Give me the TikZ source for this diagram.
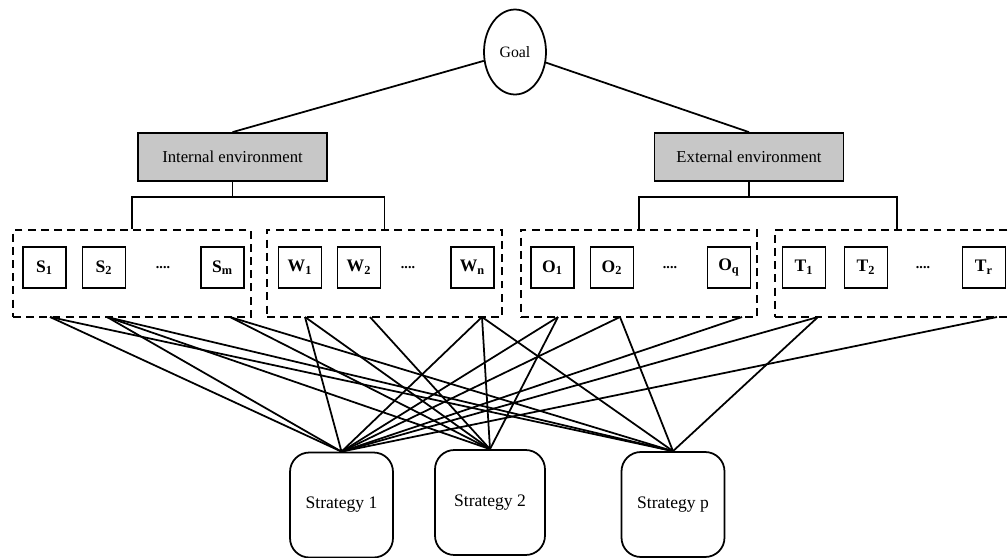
\documentclass[tikz,border=0pt]{standalone}
\usepackage{fontspec}
\setmainfont{Liberation Serif}
\usetikzlibrary{shapes.geometric, positioning}

\begin{document}
\begin{tikzpicture}[
    x=0.02cm, y=-0.02cm,
    goalnode/.style={ellipse, draw, line width=1pt, minimum width=1.24cm, minimum height=1.7cm, font=\fontsize{9}{11}\selectfont},
    envbox/.style={rectangle, draw, line width=1pt, fill=black!22, minimum width=3.78cm, minimum height=0.96cm, font=\fontsize{9.5}{11}\selectfont},
    group/.style={rectangle, draw, dashed, dash pattern=on 4.5pt off 3pt, line width=1pt, minimum height=1.74cm},
    item/.style={rectangle, draw, line width=1pt, minimum width=0.86cm, minimum height=0.82cm, font=\bfseries\fontsize{10}{12}\selectfont},
    dots/.style={font=\bfseries\fontsize{8}{10}\selectfont},
    stratbox/.style={rectangle, draw, line width=1pt, rounded corners=11pt, minimum height=2.1cm, font=\fontsize{10}{12}\selectfont},
    link/.style={line width=1pt}
]
\useasboundingbox (0,0) rectangle (1008,558);

% Goal and the two environments
\node[goalnode] (goal) at (515,52) {Goal};
\node[envbox] (intenv) at (232.5,157) {Internal environment};
\node[envbox] (extenv) at (749,157) {External environment};

% SWOT groups
\node[group, minimum width=4.76cm] (sgrp) at (132,273.5) {};
\node[group, minimum width=4.70cm] (wgrp) at (384.5,273.5) {};
\node[group, minimum width=4.72cm] (ogrp) at (639,273.5) {};
\node[group, minimum width=4.88cm] (tgrp) at (897,273.5) {};

% Factors in each group
\node[item] (s1) at (44.5,267.5) {S\textsubscript{1}};
\node[item] (s2) at (104,267.5) {S\textsubscript{2}};
\node[dots] (sdots) at (163,267.5) {....};
\node[item] (sm) at (222.5,267.5) {S\textsubscript{m}};

\node[item] (w1) at (300,267.5) {W\textsubscript{1}};
\node[item] (w2) at (359,267.5) {W\textsubscript{2}};
\node[dots] (wdots) at (408,267.5) {....};
\node[item] (wn) at (472.5,267.5) {W\textsubscript{n}};

\node[item] (o1) at (552.5,267.5) {O\textsubscript{1}};
\node[item] (o2) at (612,267.5) {O\textsubscript{2}};
\node[dots] (odots) at (670,267.5) {....};
\node[item] (oq) at (729,267.5) {O\textsubscript{q}};

\node[item] (t1) at (804,267.5) {T\textsubscript{1}};
\node[item] (t2) at (866,267.5) {T\textsubscript{2}};
\node[dots] (tdots) at (923,267.5) {....};
\node[item] (tr) at (984,267.5) {T\textsubscript{r}};

% Strategies
\node[stratbox, minimum width=2.06cm] (st1) at (341.5,505) {Strategy 1};
\node[stratbox, minimum width=2.2cm] (st2) at (490,502.5) {Strategy 2};
\node[stratbox, minimum width=2.06cm] (stp) at (673,504.5) {Strategy p};

% Forks
\coordinate (intfork) at (232.5,197);
\coordinate (extfork) at (749,197);

% Goal to environments
\draw[link] (goal) -- (intenv.north);
\draw[link] (goal) -- (extenv.north);

% Environments to groups
\draw[link] (intenv.south) -- (intfork);
\draw[link] (sgrp.north) |- (intfork) -| (wgrp.north);
\draw[link] (extenv.south) -- (extfork);
\draw[link] (ogrp.north) |- (extfork) -| (tgrp.north);

% Exit points on the group borders
\coordinate (s1out) at (50,317);
\coordinate (s2out) at (107,317);
\coordinate (smout) at (230,317);
\coordinate (w1out) at (305,317);
\coordinate (w2out) at (370,317);
\coordinate (wnout) at (482,317);
\coordinate (o1out) at (558,317);
\coordinate (o2out) at (620,317);
\coordinate (oqout) at (742,317);
\coordinate (t1out) at (818,317);
\coordinate (trout) at (997,317);

% Factors to strategies
\draw[link] (s1out) -- (st1.north);
\draw[link] (s1out) -- (stp.north);
\draw[link] (s2out) -- (st1.north);
\draw[link] (s2out) -- (st2.north);
\draw[link] (s2out) -- (stp.north);
\draw[link] (smout) -- (st2.north);
\draw[link] (smout) -- (stp.north);
\draw[link] (w1out) -- (st1.north);
\draw[link] (w1out) -- (st2.north);
\draw[link] (w2out) -- (st2.north);
\draw[link] (wnout) -- (st1.north);
\draw[link] (wnout) -- (st2.north);
\draw[link] (wnout) -- (stp.north);
\draw[link] (o1out) -- (st1.north);
\draw[link] (o1out) -- (st2.north);
\draw[link] (o2out) -- (st1.north);
\draw[link] (o2out) -- (stp.north);
\draw[link] (oqout) -- (st1.north);
\draw[link] (t1out) -- (st1.north);
\draw[link] (t1out) -- (stp.north);
\draw[link] (trout) -- (st1.north);

\end{tikzpicture}
\end{document}
